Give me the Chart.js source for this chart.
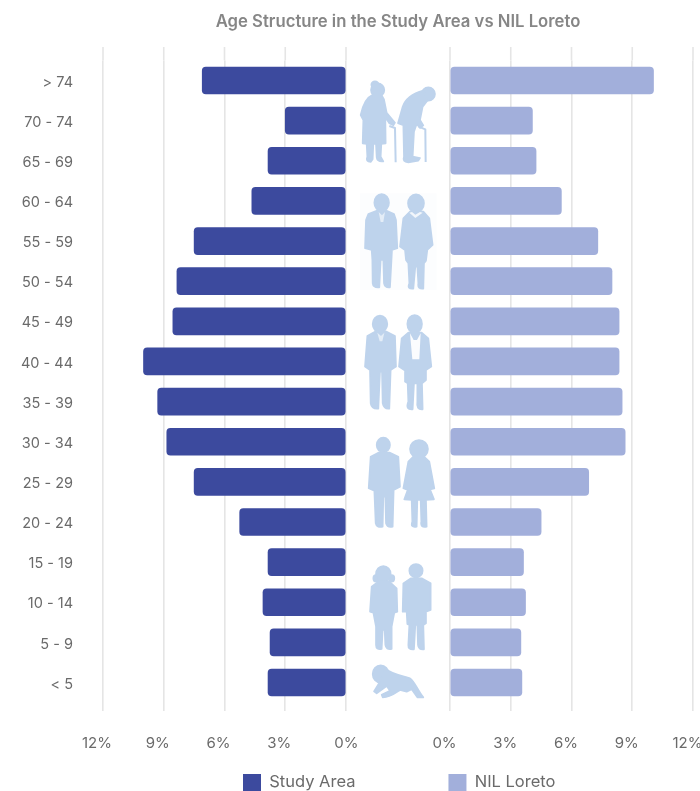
<!DOCTYPE html>
<html>
<head>
<meta charset="utf-8">
<title>Age Structure in the Study Area vs NIL Loreto</title>
<script src="https://cdn.jsdelivr.net/npm/chart.js@4"></script>
<style>
  html, body { margin: 0; padding: 0; background: #fff; overflow: hidden; }
  #wrap { position: relative; width: 700px; height: 791px; }
  #wrap canvas { position: absolute; left: 0; top: 0; }
  #figures { position: absolute; left: 0; top: 0; pointer-events: none; filter: blur(0.6px); }
  #figures g { stroke: #bed3ec; stroke-width: 5; stroke-linejoin: round; }
  #figures .plain { stroke: none; }
</style>
</head>
<body>
<div id="wrap">
  <canvas id="pyramid" width="700" height="791"></canvas>
  <svg id="figures" width="700" height="791" viewBox="0 0 700 791" aria-hidden="true">
    <!-- elderly couple with canes, adults -->
    <g transform="translate(340,60) scale(0.3333)" fill="#bed3ec">
      <rect class="plain" x="60" y="400" width="230" height="290" fill="#fcfdfe"/>
      <ellipse cx="105" cy="74" rx="11" ry="10"/>
      <ellipse cx="113" cy="90" rx="20" ry="20"/>
      <path d="M98,104 C80,112 68,135 62,165 L70,180 L68,250 L80,252 L82,290 Q76,306 92,306 L98,298 L100,252 L108,252 L110,292 Q112,306 130,304 L122,290 L124,252 L137,250 L136,172 L148,190 L160,196 L165,188 L140,158 L132,118 L124,104 Z"/>
      <path d="M148,198 L165,204 L167,307" fill="none" stroke-width="6"/>
      <circle cx="265" cy="102" r="20"/>
      <path d="M250,92 C215,102 195,120 188,140 L174,190 L190,196 L192,290 Q186,306 205,307 L235,302 L240,294 L218,290 L222,215 L230,192 L240,204 L250,196 L240,180 L248,140 L262,122 Z"/>
      <path d="M236,200 L256,208 L257,306" fill="none" stroke-width="6"/>
      <ellipse cx="125" cy="428" rx="22" ry="26"/>
      <path d="M110,452 L85,462 L78,480 L75,565 L95,570 L97,600 L98,670 Q100,684 118,682 L122,600 L130,600 L132,670 Q135,684 150,682 L155,590 L156,570 L172,565 L168,480 L162,462 L140,452 Z"/>
      <path class="plain" d="M116,456 L122,486 L130,486 L135,456 L126,466 Z" fill="#e4edf7"/>
      <ellipse cx="228" cy="430" rx="24" ry="27"/>
      <path d="M210,455 L190,475 L180,560 L195,570 L198,600 L205,610 L208,670 Q200,688 220,686 L226,620 L232,620 L235,670 Q232,688 250,686 L252,610 L258,602 L262,570 L278,555 L268,475 L250,455 Z"/>
      <path class="plain" d="M208,458 L226,474 L248,458 L240,456 L226,464 L216,456 Z" fill="#f2f6fb"/>
    </g>
    <!-- middle-aged couple, young adults -->
    <g transform="translate(340,300) scale(0.3333)" fill="#bed3ec">
      <ellipse cx="120" cy="72" rx="22" ry="25"/>
      <path d="M105,95 L82,108 L75,200 L90,210 L92,310 Q95,328 115,326 L120,215 L126,215 L128,310 Q132,328 148,326 L152,210 L168,200 L165,108 L140,95 Z"/>
      <path class="plain" d="M112,98 L119,124 L127,124 L133,98 L123,108 Z" fill="#e4edf7"/>
      <ellipse cx="224" cy="72" rx="22" ry="27"/>
      <path d="M205,98 L185,115 L177,200 L195,212 L195,245 L203,250 L205,305 Q195,330 218,328 L222,250 L232,250 L232,305 Q228,330 248,328 L246,250 L258,240 L258,210 L274,200 L265,115 L245,98 Z"/>
      <path class="plain" d="M210,100 L217,178 L238,178 L242,100 L231,120 L221,120 Z" fill="#fbfcfe"/>
      <ellipse cx="130" cy="435" rx="20" ry="22"/>
      <path d="M115,458 L92,470 L86,565 L103,572 L107,670 Q110,684 128,680 L130,590 L136,590 L138,670 Q142,684 158,680 L161,570 L180,560 L175,470 L150,458 Z"/>
      <ellipse cx="237" cy="447" rx="27" ry="27"/>
      <path d="M220,470 L205,485 L190,565 L203,570 L193,598 L215,600 L217,665 Q210,684 230,680 L232,600 L242,600 L244,665 Q240,684 260,680 L258,600 L282,598 L270,568 L283,565 L268,485 L252,470 Z"/>
    </g>
    <!-- children and crawling baby -->
    <g transform="translate(340,550) scale(0.3333)" fill="#bed3ec">
      <ellipse cx="130" cy="72" rx="22" ry="24"/>
      <ellipse cx="108" cy="85" rx="8" ry="10"/>
      <ellipse cx="155" cy="85" rx="8" ry="10"/>
      <path d="M115,95 L95,110 L90,185 L100,188 L108,230 L108,285 Q108,300 125,297 L128,240 L134,240 L136,285 Q138,300 155,297 L155,230 L163,188 L172,185 L170,115 L148,95 Z"/>
      <circle cx="228" cy="62" r="20"/>
      <path d="M212,85 L190,100 L188,185 L200,185 L202,222 L208,225 L205,285 Q204,300 222,298 L226,225 L232,225 L234,285 Q235,300 252,298 L250,225 L258,220 L258,185 L272,180 L272,100 L245,85 Z"/>
      <ellipse cx="122" cy="372" rx="24" ry="26"/>
      <path d="M135,355 C160,375 190,378 210,385 C225,395 232,420 250,442 L232,442 L215,418 L200,425 L180,420 C165,430 150,442 128,442 L125,434 L150,422 L140,408 L110,430 L102,424 L120,395 Z"/>
    </g>
  </svg>
</div>
<script>
// Population share by age band, in percent
const ageGroups = ['> 74', '70 - 74', '65 - 69', '60 - 64', '55 - 59', '50 - 54', '45 - 49', '40 - 44',
                   '35 - 39', '30 - 34', '25 - 29', '20 - 24', '15 - 19', '10 - 14', '5 - 9', '< 5'];
const studyArea = [7.1, 3.0, 3.85, 4.65, 7.5, 8.35, 8.55, 10.0, 9.3, 8.85, 7.5, 5.25, 3.85, 4.1, 3.75, 3.85];
const nilLoreto = [10.05, 4.07, 4.25, 5.5, 7.3, 8.0, 8.35, 8.35, 8.5, 8.65, 6.85, 4.5, 3.63, 3.73, 3.5, 3.55];
const seriesNames = ['Study Area', 'NIL Loreto'];
const chartTitle = 'Age Structure in the Study Area vs NIL Loreto';

const GRID = '#e5e5e5';
const TEXT = '#6a6a6a';
const FONT = 'Inter, "Liberation Sans", sans-serif';

// Both x axes share the bottom stack; a blank axis between them leaves the middle column free.
function xAxis(reverse, weight, leftSide) {
  return {
    type: 'linear', position: 'bottom', stack: 'pyramid', stackWeight: weight,
    reverse, min: 0, max: 12,
    border: { display: false },
    grid: { color: GRID, lineWidth: 1.6, tickColor: GRID, tickLength: 8.4, drawOnChartArea: true },
    ticks: {
      stepSize: 3, autoSkip: false, maxRotation: 0, padding: 23, labelOffset: leftSide ? -6 : -5.5,
      color: TEXT, font: { family: FONT, size: 15 },
      callback: v => (leftSide && v === 0) ? '   ' + v + '%' : v + '%'
    },
    afterFit(s) { s.height = 88.4; s.paddingLeft = 0; s.paddingRight = 0; }
  };
}

// Runs the grid up past the first band, to the top of the plot column
const gridCap = {
  id: 'gridCap',
  beforeDatasetsDraw(chart) {
    const { ctx, chartArea } = chart;
    ctx.save();
    ctx.strokeStyle = GRID;
    ctx.lineWidth = 1.6;
    ['xL', 'xR'].forEach(id => {
      const scale = chart.scales[id];
      scale.ticks.forEach(t => {
        const x = scale.getPixelForValue(t.value);
        ctx.beginPath();
        ctx.moveTo(x, 47);
        ctx.lineTo(x, chartArea.top);
        ctx.stroke();
      });
    });
    ctx.restore();
  }
};

// The legend takes no layout room and sits as a row under the axis labels
const legendSpot = {
  id: 'legendSpot',
  beforeLayout(chart) {
    const legend = chart.legend;
    if (!legend._flatFit) {
      const fit = legend.fit;
      legend.fit = function () { fit.call(this); this.height = 0; };
      legend._flatFit = true;
    }
  },
  afterLayout(chart) {
    chart.legend.left = 150;
    chart.legend.right = 700;
    chart.legend.top = 681;
  }
};

new Chart(document.getElementById('pyramid'), {
  type: 'bar',
  plugins: [gridCap, legendSpot],
  data: {
    labels: ageGroups,
    datasets: [
      { label: seriesNames[0], data: studyArea, xAxisID: 'xL', yAxisID: 'y', backgroundColor: '#3c4a9e', borderRadius: 4, borderSkipped: false, barThickness: 27 },
      { label: seriesNames[1], data: nilLoreto, xAxisID: 'xR', yAxisID: 'y', backgroundColor: '#a2afdb', borderRadius: 4, borderSkipped: false, barThickness: 27 }
    ]
  },
  options: {
    indexAxis: 'y',
    responsive: false,
    animation: false,
    grouped: false,
    layout: { padding: { top: 12, right: 7, left: 0, bottom: 0 } },
    scales: {
      xL: xAxis(true, 243, true),
      xGap: { type: 'linear', axis: 'x', position: 'bottom', stack: 'pyramid', stackWeight: 104, display: false },
      xR: xAxis(false, 243, false),
      y: {
        type: 'category', position: 'left',
        border: { display: false },
        grid: { display: false, drawTicks: false },
        ticks: { padding: 30, labelOffset: 1.8, color: TEXT, font: { family: FONT, size: 14.5 }, autoSkip: false },
        afterFit(s) { s.width = 103; }
      }
    },
    plugins: {
      title: {
        display: true, text: chartTitle, fullSize: false, color: '#868686',
        font: { family: FONT, size: 16.7, weight: '600' },
        padding: { top: 0, bottom: 28.4 }
      },
      legend: {
        position: 'bottom', align: 'start',
        labels: { boxWidth: 18, boxHeight: 17, padding: 93, color: TEXT, font: { family: FONT, size: 16.5 } }
      },
      tooltip: { enabled: false }
    }
  }
});
</script>
</body>
</html>
